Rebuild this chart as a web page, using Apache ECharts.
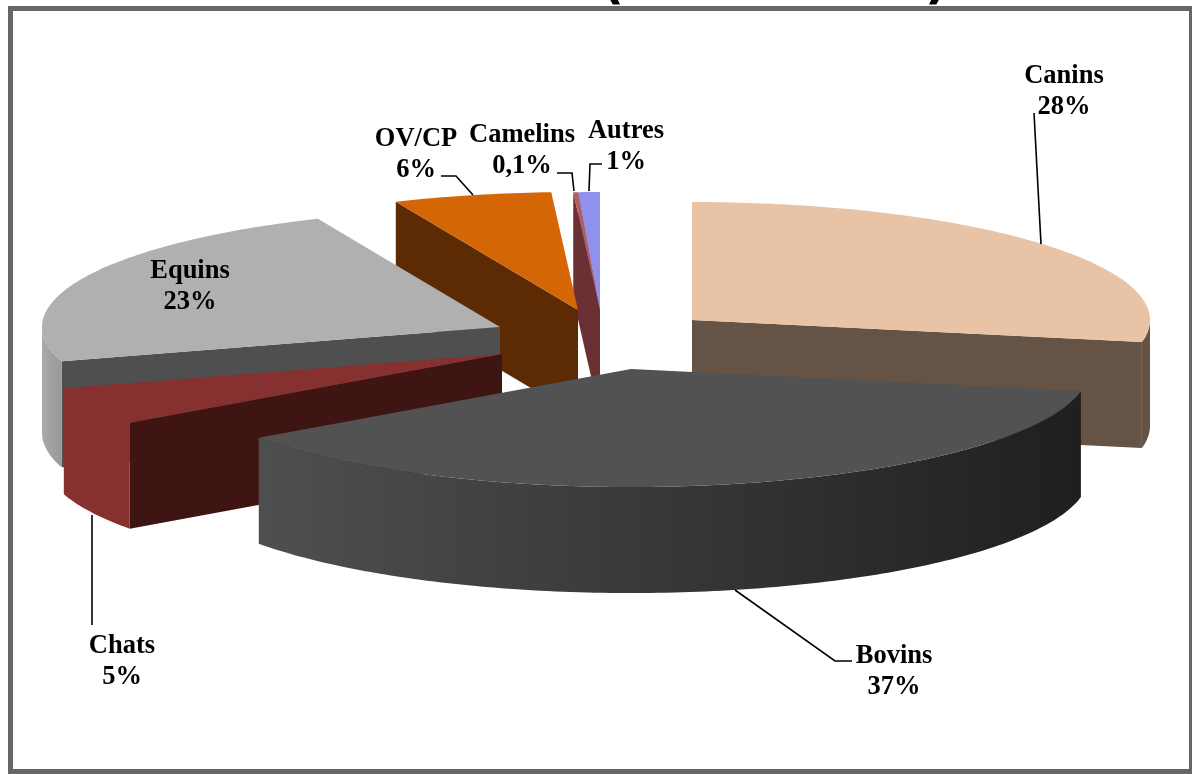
<!DOCTYPE html>
<html><head><meta charset="utf-8">
<style>html,body{margin:0;padding:0;background:#fff}#c{width:1192px;height:774px}</style>
<script src="https://cdn.jsdelivr.net/npm/echarts@6/dist/echarts.min.js"></script>
</head><body><div id="c"></div>
<script>
// ---- data ----
const categories = ['Canins','Bovins','Chats','Equins','OV/CP','Camelins','Autres'];
const shares = [28, 37.1, 5.2, 23.19, 5.58, 0.17, 0.76];
const percentLabels = ['28%','37%','5%','23%','6%','0,1%','1%'];

// ---- layout and style ----
const explodedCentres = [[692,320],[631,369],[502,354],[500,327],[578,310],[600,310],[600,310]];
const paintOrder = [6,5,4,0,3,2,1];
const topColors = ['#e8c3a5','#525252','#863030','#b0b0b0','#d56606','#b06060','#9090ee'];
const cutColors = ['#655445','#2a2a2a','#3f1513','#4f4f4f','#5c2b03','#6a3034','#3a3a78'];
const rimColors = [
  ['#655445','#655445'],['#4f4f4f','#1f1f1f'],['#863030','#863030'],
  ['#aaaaaa','#989898'],['#5c2b03','#5c2b03'],['#6a3034','#6a3034'],['#3a3a78','#3a3a78']
];
const labelAnchors = [[1064,76],[894,656],[122,646],[190,271],[416,139],[522,135],[626,131]];
const leaderLines = [
  [[1034,113],[1041,244]],
  [[735,590],[835,661],[852,661]],
  [[92,515],[92,625]],
  [[441,176],[456,176],[473,195]],
  [[557,173],[572,173],[574,191]],
  [[602,164],[590,164],[589,191]]
];
const RX = 458, RY = 118, DEPTH = 106, FONT = 'bold 26.5px "Liberation Serif"';

const total = shares.reduce((a,b)=>a+b,0);
const startAngles = [];
shares.reduce((acc,v,i)=>{ startAngles[i]=acc; return acc+v/total*360; },0);
const rad = d => d*Math.PI/180;
const rimPoint = (c,t,dy=0) => [c[0]+RX*Math.sin(rad(t)), c[1]-RY*Math.cos(rad(t))+dy];
function arcPoints(c,a,b,dy=0){
  const n = Math.max(2,Math.ceil(Math.abs(b-a)));
  const pts=[];
  for(let i=0;i<=n;i++) pts.push(rimPoint(c,a+(b-a)*i/n,dy));
  return pts;
}
function poly(points,fill){
  return {type:'polygon',shape:{points},style:{fill,stroke:null},silent:true};
}
function renderSlice(params,api){
  const i = api.value(0);
  const c = explodedCentres[i];
  const a = startAngles[i], b = a + shares[i]/total*360;
  const under = [c[0],c[1]+DEPTH];
  const children=[];
  if(Math.sin(rad(b))>0.001){ // end cut faces the viewer
    children.push(poly([c,rimPoint(c,b),rimPoint(c,b,DEPTH),under],cutColors[i]));
  }
  if(Math.sin(rad(a))<-0.001){ // start cut faces the viewer
    children.push(poly([c,rimPoint(c,a),rimPoint(c,a,DEPTH),under],cutColors[i]));
  }
  const w0=Math.max(a,90), w1=Math.min(b,270);
  if(w1>w0){
    const wall = arcPoints(c,w0,w1).concat(arcPoints(c,w1,w0,DEPTH));
    children.push(poly(wall,{type:'linear',x:1,y:0,x2:0,y2:0,colorStops:[
      {offset:0,color:rimColors[i][1]},{offset:1,color:rimColors[i][0]}]}));
  }
  children.push(poly([c].concat(arcPoints(c,a,b)),topColors[i]));
  return {type:'group',children};
}
function renderLabel(params,api){
  const i = api.value(0);
  const [x,y] = labelAnchors[i];
  const mk=(t,yy)=>({type:'text',x:x,y:yy,silent:true,
    style:{text:t,font:FONT,fill:'#000',align:'center',verticalAlign:'middle'}});
  return {type:'group',children:[mk(categories[i],y),mk(percentLabels[i],y+31)]};
}
function renderLeader(params,api){
  return {type:'polyline',silent:true,shape:{points:leaderLines[api.value(0)]},
    style:{stroke:'#000',lineWidth:1.6,fill:null}};
}
const chart = echarts.init(document.getElementById('c'),null,{renderer:'canvas'});
chart.setOption({
  animation:false,
  backgroundColor:'#fff',
  graphic:[
    {type:'text',x:624,y:10,z:1,style:{text:'(',font:'bold 50px "DejaVu Sans"',fill:'#000',align:'right',verticalAlign:'bottom'}},
    {type:'text',x:925,y:10,z:1,style:{text:')',font:'bold 50px "DejaVu Sans"',fill:'#000',align:'left',verticalAlign:'bottom'}},
    {type:'rect',z:2,shape:{x:10.5,y:8.5,width:1181,height:763},style:{fill:null,stroke:'#666',lineWidth:5}}
  ],
  series:[
    {type:'custom',coordinateSystem:'none',z:3,data:paintOrder.map(i=>[i]),renderItem:renderSlice},
    {type:'custom',coordinateSystem:'none',z:4,data:leaderLines.map((l,i)=>[i]),renderItem:renderLeader},
    {type:'custom',coordinateSystem:'none',z:5,data:categories.map((c,i)=>[i]),renderItem:renderLabel}
  ]
});
</script></body></html>
